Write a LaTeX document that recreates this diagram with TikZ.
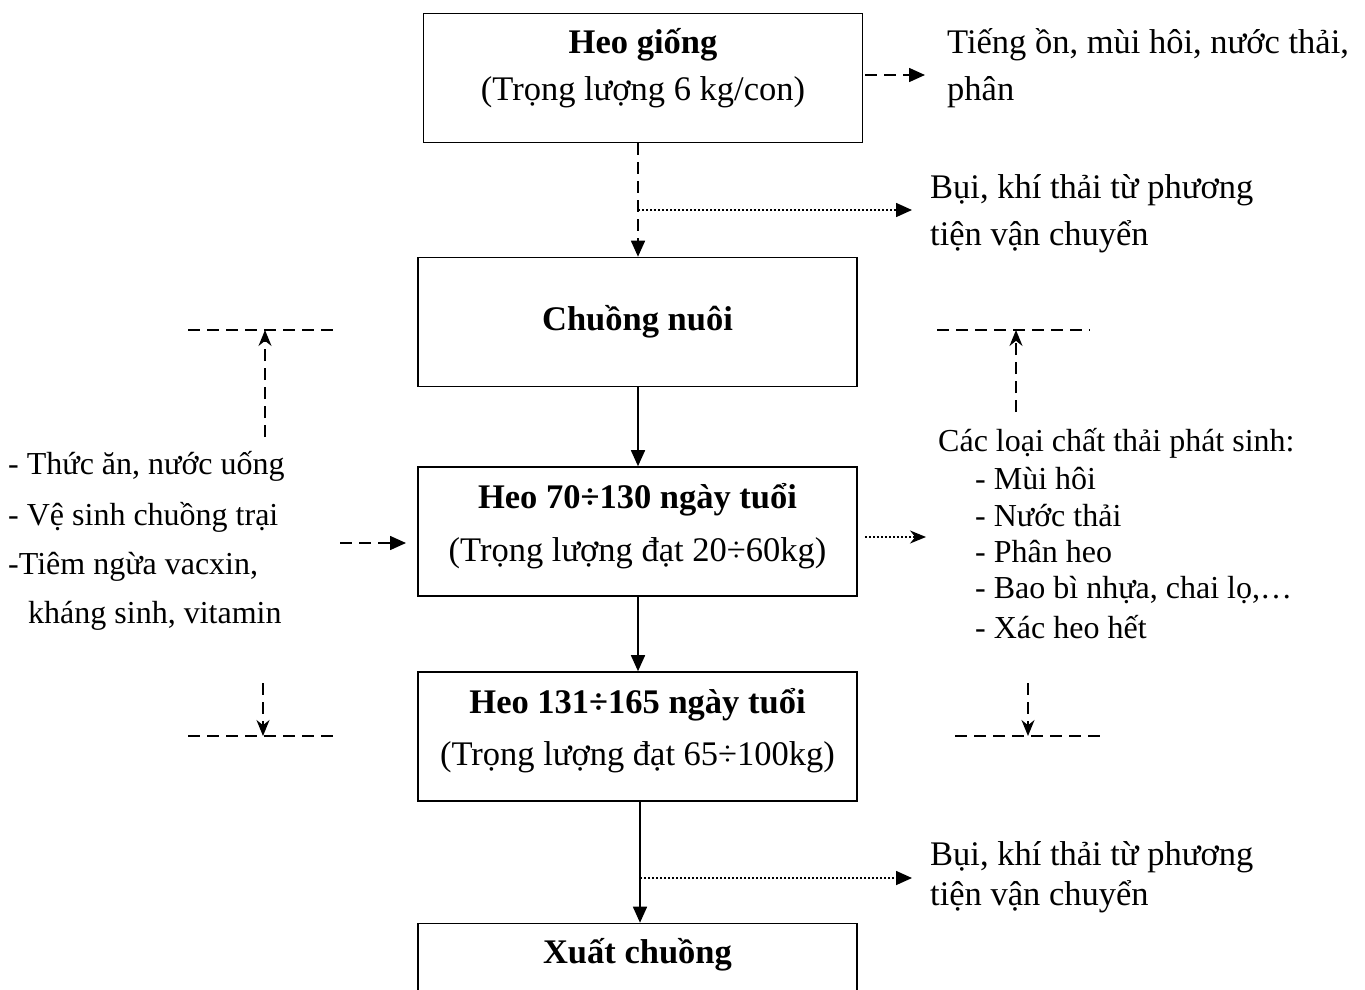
\documentclass[tikz,border=0pt]{standalone}
\usepackage{fontspec}
\setmainfont{Liberation Serif}
\usetikzlibrary{arrows.meta}
\begin{document}
\begin{tikzpicture}[x=1pt,y=-1pt,
  box/.style={draw, line width=1.6pt, minimum width=439pt, minimum height=129pt, inner sep=0pt},
  txt/.style={font=\fontsize{34.5}{40}\selectfont, inner sep=0pt},
  ltxt/.style={txt, anchor=west},
  stxt/.style={font=\fontsize{32}{38}\selectfont, inner sep=0pt, anchor=west},
  dsh/.style={line width=1.6pt, dash pattern=on 12pt off 7pt},
  dtt/.style={line width=1.6pt, dash pattern=on 2pt off 2pt},
  sol/.style={line width=1.6pt},
  tri/.style={-{Triangle[length=16pt,width=14pt]}},
  stl/.style={-{Stealth[length=16pt,width=13pt]}}]
\useasboundingbox (0,0) rectangle (1365,990);
\clip (0,0) rectangle (1365,990);
% boxes
\node[box] (b1) at (643,78) {};
\node[box] (b2) at (637.5,322) {};
\node[box] (b3) at (637.5,531.5) {};
\node[box] (b4) at (637.5,736.5) {};
\node[box] (b5) at (637.5,988) {};
% box texts
\node[txt] (t1a) at (643,45) {\textbf{Heo giống}};
\node[txt] (t1b) at (643,92) {(Trọng lượng 6 kg/con)};
\node[txt] (t2) at (637.5,322) {\textbf{Chuồng nuôi}};
\node[txt] (t3a) at (637.5,500) {\textbf{Heo 70÷130 ngày tuổi}};
\node[txt] (t3b) at (637.5,553) {(Trọng lượng đạt 20÷60kg)};
\node[txt] (t4a) at (637.5,705) {\textbf{Heo 131÷165 ngày tuổi}};
\node[txt] (t4b) at (637.5,757) {(Trọng lượng đạt 65÷100kg)};
\node[txt] (t5) at (637.5,955) {\textbf{Xuất chuồng}};
% side texts
\node[ltxt] (r1a) at (947,45) {Tiếng ồn, mùi hôi, nước thải,};
\node[ltxt] (r1b) at (947,92) {phân};
\node[ltxt] (r2a) at (930,190) {Bụi, khí thải từ phương};
\node[ltxt] (r2b) at (930,237) {tiện vận chuyển};
\node[stxt] (r3) at (938,443) {Các loại chất thải phát sinh:};
\node[stxt] (r3a) at (975,479) {- Mùi hôi};
\node[stxt] (r3b) at (975,516) {- Nước thải};
\node[stxt] (r3c) at (975,552) {- Phân heo};
\node[stxt] (r3d) at (975,590) {- Bao bì nhựa, chai lọ,…};
\node[stxt] (r3e) at (975,627) {- Xác heo hết};
\node[ltxt] (r4a) at (930,857) {Bụi, khí thải từ phương};
\node[ltxt] (r4b) at (930,897) {tiện vận chuyển};
\node[stxt] (l1) at (8,466) {- Thức ăn, nước uống};
\node[stxt] (l2) at (8,517) {- Vệ sinh chuồng trại};
\node[stxt] (l3) at (8,567) {-Tiêm ngừa vacxin,};
\node[stxt] (l4) at (28,616) {kháng sinh, vitamin};
% coordinates
\coordinate (a1s) at (865,75); \coordinate (a1e) at (925,75);
\coordinate (j1) at (638,210); \coordinate (j1e) at (912,210);
\coordinate (j2) at (640,878); \coordinate (j2e) at (912,878);
\coordinate (m1s) at (340,543); \coordinate (m1e) at (406,543);
\coordinate (m2s) at (865,537); \coordinate (m2e) at (926,537);
\coordinate (lu1) at (188,330); \coordinate (lu2) at (340,330);
\coordinate (lus) at (265,437); \coordinate (lue) at (265,330);
\coordinate (ld1) at (188,736); \coordinate (ld2) at (340,736);
\coordinate (lds) at (263,683); \coordinate (lde) at (263,736);
\coordinate (ru1) at (937,330); \coordinate (ru2) at (1090,330);
\coordinate (rus) at (1016,412); \coordinate (rue) at (1016,330);
\coordinate (rd1) at (955,736); \coordinate (rd2) at (1107,736);
\coordinate (rds) at (1028,683); \coordinate (rde) at (1028,736);
% connectors
\draw[dsh,tri] (b1.south -| j1) -- (b2.north -| j1);
\draw[dtt,tri] (j1) -- (j1e);
\draw[dsh,tri] (a1s) -- (a1e);
\draw[sol,tri] (b2.south -| j1) -- (b3.north -| j1);
\draw[sol,tri] (b3.south -| j1) -- (b4.north -| j1);
\draw[sol,tri] (b4.south -| j2) -- (b5.north -| j2);
\draw[dtt,tri] (j2) -- (j2e);
\draw[dsh,tri] (m1s) -- (m1e);
\draw[dtt,stl] (m2s) -- (m2e);
\draw[dsh] (lu1) -- (lu2);
\draw[dsh,stl] (lus) -- (lue);
\draw[dsh] (ld1) -- (ld2);
\draw[dsh,stl] (lds) -- (lde);
\draw[dsh] (ru1) -- (ru2);
\draw[dsh,stl] (rus) -- (rue);
\draw[dsh] (rd1) -- (rd2);
\draw[dsh,stl] (rds) -- (rde);
\end{tikzpicture}
\end{document}
